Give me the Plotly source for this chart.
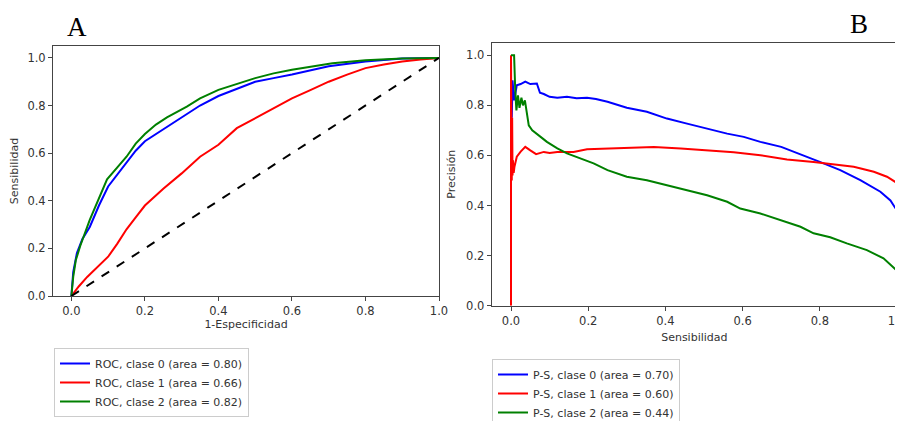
import plotly.graph_objects as go

# ---- ROC data (x = 1-Especificidad, y = Sensibilidad) ----
roc0_x = [0.0, 0.005, 0.015, 0.03, 0.05, 0.075, 0.1, 0.125, 0.15, 0.175, 0.2, 0.23, 0.26, 0.3, 0.35, 0.4, 0.45, 0.5, 0.55, 0.6, 0.7, 0.8, 0.9, 1.0]
roc0_y = [0.0, 0.1, 0.18, 0.24, 0.29, 0.38, 0.46, 0.51, 0.56, 0.61, 0.65, 0.68, 0.71, 0.75, 0.80, 0.84, 0.87, 0.90, 0.915, 0.93, 0.965, 0.985, 0.997, 1.0]
roc1_x = [0.0, 0.02, 0.043, 0.07, 0.1, 0.125, 0.15, 0.175, 0.2, 0.25, 0.3, 0.35, 0.4, 0.45, 0.5, 0.55, 0.6, 0.65, 0.7, 0.75, 0.8, 0.85, 0.9, 0.95, 1.0]
roc1_y = [0.0, 0.04, 0.08, 0.12, 0.165, 0.22, 0.28, 0.33, 0.38, 0.45, 0.515, 0.585, 0.635, 0.705, 0.746, 0.79, 0.83, 0.865, 0.90, 0.93, 0.957, 0.972, 0.985, 0.993, 1.0]
roc2_x = [0.0, 0.005, 0.012, 0.024, 0.05, 0.075, 0.097, 0.125, 0.15, 0.175, 0.2, 0.23, 0.26, 0.314, 0.35, 0.4, 0.45, 0.5, 0.55, 0.6, 0.71, 0.8, 0.9, 1.0]
roc2_y = [0.0, 0.08, 0.15, 0.21, 0.32, 0.41, 0.49, 0.54, 0.585, 0.64, 0.68, 0.72, 0.75, 0.795, 0.83, 0.866, 0.89, 0.915, 0.935, 0.95, 0.978, 0.99, 0.998, 1.0]
diag_x = [0.0, 1.0]
diag_y = [0.0, 1.0]
roc_names = ["ROC, clase 0 (area = 0.80)", "ROC, clase 1 (area = 0.66)", "ROC, clase 2 (area = 0.82)"]

# ---- Precision-Sensibilidad data (x = Sensibilidad, y = Precisión) ----
ps0_x = [0.002, 0.004, 0.008, 0.015, 0.025, 0.037, 0.05, 0.067, 0.075, 0.085, 0.1, 0.12, 0.145, 0.17, 0.197, 0.22, 0.25, 0.3, 0.352, 0.404, 0.456, 0.508, 0.56, 0.603, 0.646, 0.7, 0.75, 0.8, 0.853, 0.905, 0.957, 0.983, 1.0]
ps0_y = [0.75, 0.90, 0.82, 0.88, 0.885, 0.895, 0.885, 0.887, 0.85, 0.845, 0.834, 0.83, 0.834, 0.828, 0.83, 0.825, 0.814, 0.79, 0.774, 0.747, 0.727, 0.707, 0.687, 0.674, 0.654, 0.634, 0.605, 0.574, 0.541, 0.501, 0.455, 0.42, 0.38]
ps1_x = [0.0, 0.0, 0.002, 0.003, 0.004, 0.005, 0.007, 0.009, 0.015, 0.025, 0.037, 0.05, 0.065, 0.085, 0.1, 0.12, 0.162, 0.197, 0.25, 0.3, 0.37, 0.44, 0.508, 0.577, 0.646, 0.715, 0.784, 0.836, 0.888, 0.94, 0.974, 1.0]
ps1_y = [0.0, 1.0, 0.5, 0.75, 0.52, 0.58, 0.53, 0.555, 0.595, 0.615, 0.634, 0.62, 0.605, 0.614, 0.61, 0.614, 0.614, 0.625, 0.628, 0.628, 0.634, 0.628, 0.621, 0.613, 0.601, 0.584, 0.574, 0.565, 0.555, 0.535, 0.515, 0.49]
ps2_x = [0.0, 0.008, 0.011, 0.014, 0.018, 0.022, 0.027, 0.031, 0.036, 0.041, 0.046, 0.055, 0.067, 0.08, 0.093, 0.12, 0.145, 0.18, 0.214, 0.25, 0.3, 0.352, 0.404, 0.456, 0.508, 0.56, 0.594, 0.646, 0.7, 0.75, 0.784, 0.827, 0.87, 0.922, 0.965, 1.0]
ps2_y = [1.0, 1.0, 0.86, 0.78, 0.84, 0.79, 0.83, 0.80, 0.82, 0.76, 0.72, 0.70, 0.687, 0.67, 0.654, 0.628, 0.608, 0.588, 0.568, 0.541, 0.515, 0.501, 0.481, 0.461, 0.441, 0.415, 0.388, 0.368, 0.342, 0.315, 0.289, 0.273, 0.249, 0.222, 0.189, 0.14]
ps_names = ["P-S, clase 0 (area = 0.70)", "P-S, clase 1 (area = 0.60)", "P-S, clase 2 (area = 0.44)"]

tick_vals = [0.0, 0.2, 0.4, 0.6, 0.8, 1.0]
tick_text = ["0.0", "0.2", "0.4", "0.6", "0.8", "1.0"]
colors = ["#0000ff", "#ff0000", "#008000"]

W, H, OFF = 903, 421, 8  # page body margin offsets the figure by 8 px


def px(x):
    return (x - OFF) / W


def py(y):
    return 1 - (y - OFF) / H


fig = go.Figure()
for xs, ys, name, c in zip([roc0_x, roc1_x, roc2_x], [roc0_y, roc1_y, roc2_y], roc_names, colors):
    fig.add_trace(go.Scatter(x=xs, y=ys, mode="lines", name=name, line=dict(color=c, width=2),
                             xaxis="x", yaxis="y", legend="legend"))
fig.add_trace(go.Scatter(x=diag_x, y=diag_y, mode="lines", showlegend=False,
                         line=dict(color="black", width=2, dash="dash"), xaxis="x", yaxis="y"))
for xs, ys, name, c in zip([ps0_x, ps1_x, ps2_x], [ps0_y, ps1_y, ps2_y], ps_names, colors):
    fig.add_trace(go.Scatter(x=xs, y=ys, mode="lines", name=name, line=dict(color=c, width=2),
                             xaxis="x2", yaxis="y2", legend="legend2"))

axis_common = dict(showline=True, mirror=True, linecolor="#444", linewidth=1, ticks="outside",
                   ticklen=4, tickcolor="#444", showgrid=False, zeroline=False, automargin=False,
                   tickvals=tick_vals, ticktext=tick_text,
                   tickfont=dict(family="DejaVu Sans", size=11.5, color="#333"))
title_font = dict(family="DejaVu Sans", size=11, color="#333")
legend_font = dict(family="DejaVu Sans", size=11, color="#333")

fig.update_layout(
    width=W, height=H, margin=dict(l=0, r=0, t=0, b=0, autoexpand=False),
    paper_bgcolor="white", plot_bgcolor="white",
    xaxis=dict(domain=[px(53), px(439)], range=[-0.05, 1.0], anchor="y",
               title=dict(text="1-Especificidad", font=title_font, standoff=2), **axis_common),
    yaxis=dict(domain=[py(296), py(46)], range=[0.0, 1.05], anchor="x",
               title=dict(text="Sensibilidad", font=title_font, standoff=6), **axis_common),
    xaxis2=dict(domain=[px(491.7), px(897)], range=[-0.05, 1.0], anchor="y2",
                title=dict(text="Sensibilidad", font=title_font, standoff=6), **axis_common),
    yaxis2=dict(domain=[py(305.7), py(42.7)], range=[0.0, 1.05], anchor="x2",
                title=dict(text="Precisión", font=title_font, standoff=8), **axis_common),
    legend=dict(x=px(54), y=py(348), xanchor="left", yanchor="top", bordercolor="#ccc", borderwidth=1,
                font=legend_font, tracegroupgap=0, itemwidth=30, bgcolor="white"),
    legend2=dict(x=px(492), y=py(359), xanchor="left", yanchor="top", bordercolor="#ccc", borderwidth=1,
                 font=legend_font, tracegroupgap=0, itemwidth=30, bgcolor="white"),
    annotations=[
        dict(text="A", x=px(77), y=py(27), xref="paper", yref="paper", showarrow=False,
             xanchor="center", yanchor="middle",
             font=dict(family="Liberation Serif", size=27, color="black")),
        dict(text="B", x=px(859), y=py(24), xref="paper", yref="paper", showarrow=False,
             xanchor="center", yanchor="middle",
             font=dict(family="Liberation Serif", size=27, color="black")),
    ],
)

fig.write_html("out.html")
